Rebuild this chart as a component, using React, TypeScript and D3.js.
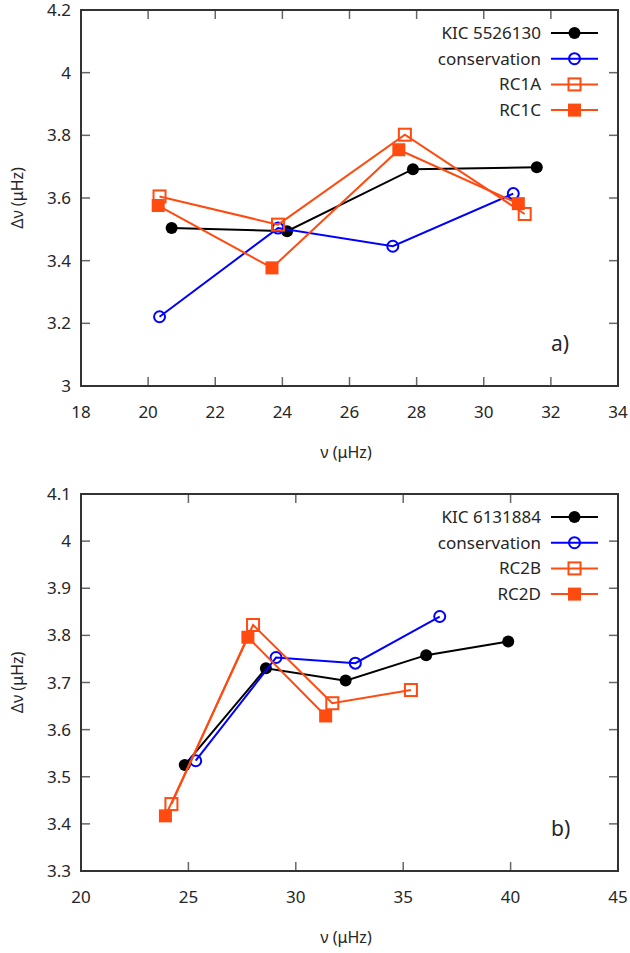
import React, { useEffect, useRef } from "react";
import * as d3 from "d3";

// panel a) KIC 5526130
const aKicX = [20.7, 24.14, 27.89, 31.58];
const aKicY = [3.504, 3.494, 3.692, 3.698];
const aConsX = [20.34, 23.87, 27.29, 30.88];
const aConsY = [3.221, 3.504, 3.446, 3.614];
const aRC1AX = [20.34, 23.87, 27.65, 31.22];
const aRC1AY = [3.605, 3.515, 3.802, 3.549];
const aRC1CX = [20.3, 23.69, 27.47, 31.03];
const aRC1CY = [3.576, 3.377, 3.754, 3.582];
const aXTicks = [18, 20, 22, 24, 26, 28, 30, 32, 34];
const aYTicks = [3, 3.2, 3.4, 3.6, 3.8, 4, 4.2];

// panel b) KIC 6131884
const bKicX = [24.83, 28.61, 32.32, 36.07, 39.89];
const bKicY = [3.525, 3.73, 3.704, 3.758, 3.787];
const bConsX = [25.34, 29.08, 32.77, 36.7];
const bConsY = [3.534, 3.753, 3.741, 3.84];
const bRC2BX = [24.21, 28.01, 31.7, 35.36];
const bRC2BY = [3.442, 3.822, 3.656, 3.684];
const bRC2DX = [23.93, 27.77, 31.39];
const bRC2DY = [3.417, 3.796, 3.629];
const bXTicks = [20, 25, 30, 35, 40, 45];
const bYTicks = [3.3, 3.4, 3.5, 3.6, 3.7, 3.8, 3.9, 4, 4.1];

const BLACK = "#000000";
const BLUE = "#0000ff";
const ORANGE = "#ff4a10";
const FONT = "'Noto Sans', 'Open Sans', sans-serif";
const TXT = "#262626";

type Series = { name: string; xs: number[]; ys: number[]; color: string; marker: string };

function drawPanel(svg: any, top: number, bottom: number, xDom: number[], yDom: number[],
  xTicks: number[], yTicks: number[], series: Series[], tag: string) {
  const left = 81, right = 618;
  const x = d3.scaleLinear().domain(xDom).range([left, right]);
  const y = d3.scaleLinear().domain(yDom).range([bottom, top]);
  const g = svg.append("g");
  const tl = 9;

  // ticks, mirrored inside on all sides
  xTicks.forEach((t) => {
    g.append("line").attr("x1", x(t)).attr("x2", x(t)).attr("y1", bottom).attr("y2", bottom - tl)
      .attr("stroke", "#666").attr("stroke-width", 1.5);
    g.append("line").attr("x1", x(t)).attr("x2", x(t)).attr("y1", top).attr("y2", top + tl)
      .attr("stroke", "#666").attr("stroke-width", 1.5);
    g.append("text").attr("x", x(t)).attr("y", bottom + 32).attr("text-anchor", "middle")
      .attr("font-family", FONT).attr("font-size", 17).attr("fill", TXT).text(String(t));
  });
  yTicks.forEach((t) => {
    g.append("line").attr("x1", left).attr("x2", left + tl).attr("y1", y(t)).attr("y2", y(t))
      .attr("stroke", "#666").attr("stroke-width", 1.5);
    g.append("line").attr("x1", right).attr("x2", right - tl).attr("y1", y(t)).attr("y2", y(t))
      .attr("stroke", "#666").attr("stroke-width", 1.5);
    g.append("text").attr("x", 71).attr("y", y(t) + 6).attr("text-anchor", "end")
      .attr("font-family", FONT).attr("font-size", 17).attr("fill", TXT).text(String(t));
  });

  g.append("rect").attr("x", left).attr("y", top).attr("width", right - left).attr("height", bottom - top)
    .attr("fill", "none").attr("stroke", "#333").attr("stroke-width", 2);

  // axis titles
  g.append("text").attr("x", 346).attr("y", bottom + 72).attr("text-anchor", "middle")
    .attr("font-family", FONT).attr("font-size", 16).attr("fill", TXT).text("ν (μHz)");
  g.append("text").attr("transform", `translate(23,${(top + bottom) / 2}) rotate(-90)`)
    .attr("text-anchor", "middle").attr("font-family", FONT).attr("font-size", 16).attr("fill", TXT)
    .text("Δν (μHz)");

  const drawMarker = (sel: any, cx: number, cy: number, s: Series) => {
    if (s.marker === "dot") {
      sel.append("circle").attr("cx", cx).attr("cy", cy).attr("r", 6).attr("fill", s.color);
    } else if (s.marker === "ring") {
      sel.append("circle").attr("cx", cx).attr("cy", cy).attr("r", 5.5).attr("fill", "none")
        .attr("stroke", s.color).attr("stroke-width", 2);
    } else if (s.marker === "box") {
      sel.append("rect").attr("x", cx - 6).attr("y", cy - 6).attr("width", 12).attr("height", 12)
        .attr("fill", "none").attr("stroke", s.color).attr("stroke-width", 2);
    } else {
      sel.append("rect").attr("x", cx - 6.5).attr("y", cy - 6.5).attr("width", 13).attr("height", 13)
        .attr("fill", s.color);
    }
  };

  series.forEach((s) => {
    const pts: [number, number][] = s.xs.map((v, i) => [x(v), y(s.ys[i])]);
    g.append("path").attr("d", d3.line()(pts)).attr("fill", "none").attr("stroke", s.color)
      .attr("stroke-width", 2);
    pts.forEach((p) => drawMarker(g, p[0], p[1], s));
  });

  // legend
  series.forEach((s, i) => {
    const ly = top + 23 + i * 25.7;
    g.append("text").attr("x", 541).attr("y", ly + 6).attr("text-anchor", "end")
      .attr("font-family", FONT).attr("font-size", 17).attr("fill", TXT).text(s.name);
    g.append("line").attr("x1", 551).attr("x2", 598).attr("y1", ly).attr("y2", ly)
      .attr("stroke", s.color).attr("stroke-width", 2);
    drawMarker(g, 574.5, ly, s);
  });

  g.append("text").attr("x", 551).attr("y", bottom - 35).attr("font-family", FONT)
    .attr("font-size", 21).attr("fill", TXT).text(tag);
}

export default function App() {
  const ref = useRef<SVGSVGElement>(null);
  useEffect(() => {
    document.body.style.margin = "0";
    const svg = d3.select(ref.current);
    svg.selectAll("*").remove();
    svg.append("rect").attr("width", 630).attr("height", 953).attr("fill", "#fff");
    drawPanel(svg, 10, 386, [18, 34], [3, 4.2], aXTicks, aYTicks, [
      { name: "KIC 5526130", xs: aKicX, ys: aKicY, color: BLACK, marker: "dot" },
      { name: "conservation", xs: aConsX, ys: aConsY, color: BLUE, marker: "ring" },
      { name: "RC1A", xs: aRC1AX, ys: aRC1AY, color: ORANGE, marker: "box" },
      { name: "RC1C", xs: aRC1CX, ys: aRC1CY, color: ORANGE, marker: "filledbox" },
    ], "a)");
    drawPanel(svg, 494, 871, [20, 45], [3.3, 4.1], bXTicks, bYTicks, [
      { name: "KIC 6131884", xs: bKicX, ys: bKicY, color: BLACK, marker: "dot" },
      { name: "conservation", xs: bConsX, ys: bConsY, color: BLUE, marker: "ring" },
      { name: "RC2B", xs: bRC2BX, ys: bRC2BY, color: ORANGE, marker: "box" },
      { name: "RC2D", xs: bRC2DX, ys: bRC2DY, color: ORANGE, marker: "filledbox" },
    ], "b)");
  }, []);
  return <svg ref={ref} width={630} height={953} style={{ display: "block" }} />;
}
